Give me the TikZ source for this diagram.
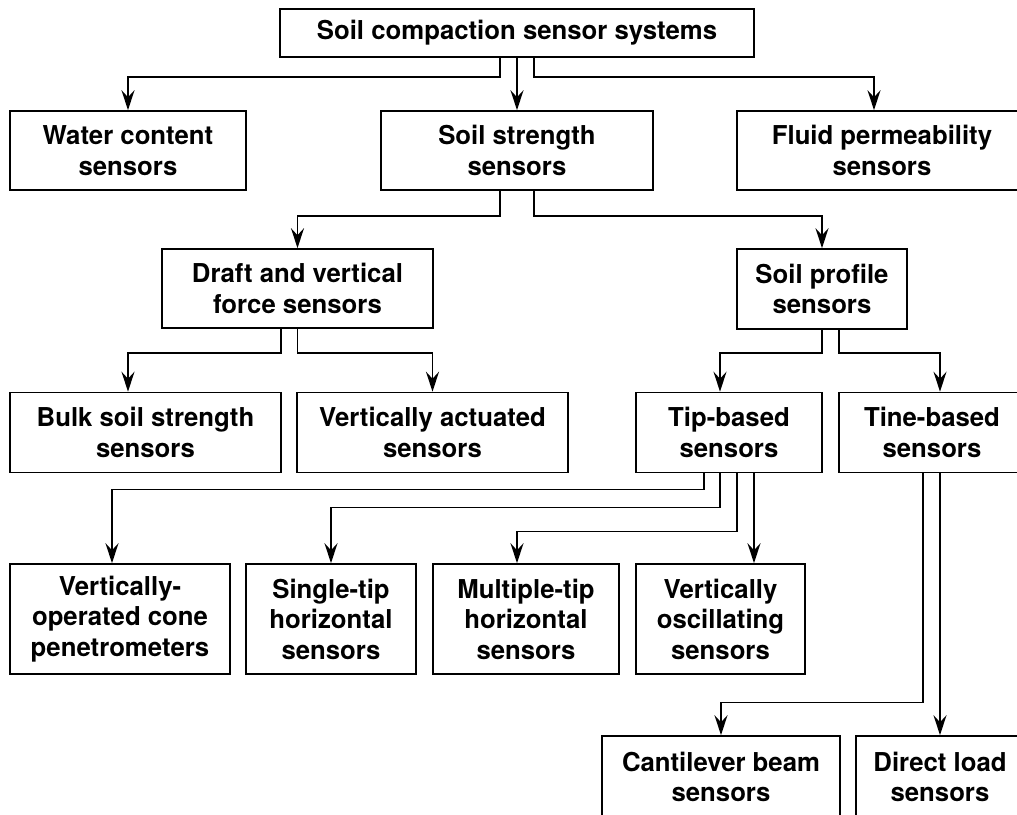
\documentclass[tikz,border=0pt]{standalone}
\usepackage{fontspec}
\setmainfont{TeX Gyre Heros}[FakeStretch=0.99]
\usetikzlibrary{arrows.meta}
\begin{document}
\begin{tikzpicture}[x=1pt,y=-1pt,
  box/.style={draw, line width=1.6pt, inner sep=0pt, align=center,
    font=\fontsize{26}{30.5}\selectfont\bfseries},
  link/.style={line width=1.6pt, -{Stealth[length=20pt,width=13pt,inset=7pt]}},
]
\useasboundingbox (0,0) rectangle (1017,814);
\clip (0,0) rectangle (1017,814);

% level 0
\node[box, minimum width=474pt, minimum height=48pt] (top) at (517,33) {Soil compaction sensor systems};
% level 1
\node[box, minimum width=236pt, minimum height=79pt] (water) at (128,150.5) {Water content\\sensors};
\node[box, minimum width=272pt, minimum height=79pt] (strength) at (517,150.5) {Soil strength\\sensors};
\node[box, minimum width=290pt, minimum height=79pt] (fluid) at (882,150.5) {Fluid permeability\\sensors};
% level 2
\node[box, minimum width=271pt, minimum height=79pt] (draft) at (297.5,288.5) {Draft and vertical\\force sensors};
\node[box, minimum width=170pt, minimum height=80pt] (profile) at (822,289) {Soil profile\\sensors};
% level 3
\node[box, minimum width=271pt, minimum height=80pt] (bulk) at (145.5,432.5) {Bulk soil strength\\sensors};
\node[box, minimum width=271pt, minimum height=80pt] (vact) at (432.5,432.5) {Vertically actuated\\sensors};
\node[box, minimum width=186pt, minimum height=80pt] (tip) at (729,432.5) {Tip-based\\sensors};
\node[box, minimum width=186pt, minimum height=80pt] (tine) at (932,432.5) {Tine-based\\sensors};
% level 4
\node[box, minimum width=220pt, minimum height=110pt] (vop) at (120,619) {Vertically-\\operated cone\\penetrometers};
\node[box, minimum width=170pt, minimum height=110pt] (single) at (331,619) {Single-tip\\horizontal\\sensors};
\node[box, minimum width=186pt, minimum height=110pt] (multi) at (526,619) {Multiple-tip\\horizontal\\sensors};
\node[box, minimum width=169pt, minimum height=110pt] (vosc) at (720.5,619) {Vertically\\oscillating\\sensors};
% level 5
\node[box, minimum width=238pt, minimum height=82pt] (cant) at (721,777) {Cantilever beam\\sensors};
\node[box, minimum width=168pt, minimum height=82pt] (direct) at (940,777) {Direct load\\sensors};

% connectors
\draw[link] ([xshift=-17pt]top.south) -- ++(0,19) -| (water.north);
\draw[link] (top.south) -- (strength.north);
\draw[link] ([xshift=17pt]top.south) -- ++(0,19) -| ([xshift=-8pt]fluid.north);

\draw[link] ([xshift=-17pt]strength.south) -- ++(0,25) -| (draft.north);
\draw[link] ([xshift=17pt]strength.south) -- ++(0,25) -| (profile.north);

\draw[link] ([xshift=-16.5pt]draft.south) -- ++(0,24) -| ([xshift=-17.5pt]bulk.north);
\draw[link] (draft.south) -- ++(0,24) -| (vact.north);

\draw[link] (profile.south) -- ++(0,23) -| ([xshift=-9pt]tip.north);
\draw[link] ([xshift=17pt]profile.south) -- ++(0,23) -| ([xshift=8pt]tine.north);

\draw[link] ([xshift=-25pt]tip.south) -- ++(0,16) -| ([xshift=-8pt]vop.north);
\draw[link] ([xshift=-9pt]tip.south) -- ++(0,34) -| (single.north);
\draw[link] ([xshift=8pt]tip.south) -- ++(0,58) -| ([xshift=-9pt]multi.north);
\draw[link] ([xshift=25pt]tip.south) -- ([xshift=25pt]tip.south |- vosc.north);

\draw[link] ([xshift=-9pt]tine.south) -- ++(0,229) -| (cant.north);
\draw[link] ([xshift=8pt]tine.south) -- (direct.north);
\end{tikzpicture}
\end{document}
